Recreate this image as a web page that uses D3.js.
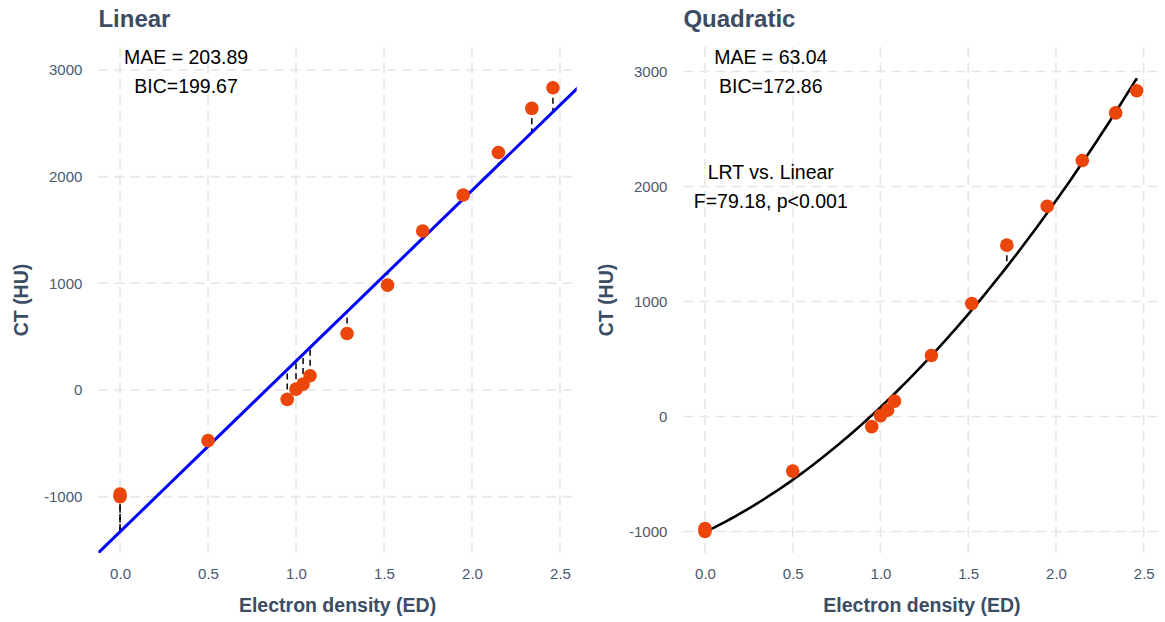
<!DOCTYPE html>
<html>
<head>
<meta charset="utf-8">
<script src="https://cdn.jsdelivr.net/npm/d3@7"></script>
<style>
  html, body { margin: 0; padding: 0; background: #ffffff; }
  svg { display: block; }
  text { font-family: "Liberation Sans", Arial, sans-serif; }
</style>
</head>
<body>
<svg id="chart" width="1165" height="622"></svg>
<script>
// ---------------- data ----------------
const electronDensity = [0, 0, 0.5, 0.95, 1.0, 1.04, 1.08, 1.29, 1.52, 1.72, 1.95, 2.15, 2.34, 2.46];
const ctHU            = [-1000, -975, -475, -88, 8, 55, 134, 530, 983, 1490, 1828, 2226, 2640, 2833];
const xTicks = [0, 0.5, 1.0, 1.5, 2.0, 2.5];
const yTicks = [-1000, 0, 1000, 2000, 3000];
const panelTitles = ["Linear", "Quadratic"];
const statLabels = [["MAE = 203.89", "BIC=199.67"], ["MAE = 63.04", "BIC=172.86"]];
const lrtLabel = ["LRT vs. Linear", "F=79.18, p<0.001"];
const xTitle = "Electron density (ED)";
const yTitle = "CT (HU)";

// ---------------- fits (least squares from the data) ----------------
function solve3(A, b) {
  const M = A.map((r, i) => r.concat([b[i]]));
  const n = 3;
  for (let i = 0; i < n; i++) {
    let p = i;
    for (let k = i + 1; k < n; k++) if (Math.abs(M[k][i]) > Math.abs(M[p][i])) p = k;
    [M[i], M[p]] = [M[p], M[i]];
    for (let k = i + 1; k < n; k++) {
      const f = M[k][i] / M[i][i];
      for (let j = i; j <= n; j++) M[k][j] -= f * M[i][j];
    }
  }
  const x = [0, 0, 0];
  for (let i = n - 1; i >= 0; i--) {
    let s = M[i][n];
    for (let j = i + 1; j < n; j++) s -= M[i][j] * x[j];
    x[i] = s / M[i][i];
  }
  return x;
}
const N = electronDensity.length;
const mx = d3.mean(electronDensity), my = d3.mean(ctHU);
let sxx = 0, sxy = 0;
for (let i = 0; i < N; i++) {
  sxx += (electronDensity[i] - mx) ** 2;
  sxy += (electronDensity[i] - mx) * (ctHU[i] - my);
}
const linB = sxy / sxx, linA = my - linB * mx;
const linFit = x => linA + linB * x;

const S = [0, 0, 0, 0, 0], T = [0, 0, 0];
for (let i = 0; i < N; i++) {
  const x = electronDensity[i], y = ctHU[i];
  for (let k = 0; k < 5; k++) S[k] += x ** k;
  for (let k = 0; k < 3; k++) T[k] += y * x ** k;
}
const qc = solve3([[S[0], S[1], S[2]], [S[1], S[2], S[3]], [S[2], S[3], S[4]]], T);
const quadFit = x => qc[0] + qc[1] * x + qc[2] * x * x;

// ---------------- layout ----------------
const svg = d3.select("#chart");
const panels = [
  { left: 98.4, right: 576.7, yDomain: [-1528, 3215], fit: linFit, type: "line", color: "#0000ff", lw: 3 },
  { left: 683.4, right: 1160.4, yDomain: [-1187, 3213], fit: quadFit, type: "curve", color: "#000000", lw: 2.6 }
];
const panelTop = 47, panelBottom = 553;
const xDomain = [-0.123, 2.595];
const titleColor = "#3b4c63";
const tickColor = "#4a596d";
const gridColor = "#e6e6e6";
const pointColor = "#ec450a";
const yFmt = d => String(d);          // plain hyphen-minus like the reference

panels.forEach((p, pi) => {
  const x = d3.scaleLinear().domain(xDomain).range([p.left, p.right]);
  const y = d3.scaleLinear().domain(p.yDomain).range([panelBottom, panelTop]);
  const g = svg.append("g");

  const clipId = "clip" + pi;
  svg.append("defs").append("clipPath").attr("id", clipId)
    .append("rect").attr("x", p.left).attr("y", panelTop)
    .attr("width", p.right - p.left).attr("height", panelBottom - panelTop);

  // grid
  g.append("g").selectAll("line").data(yTicks).join("line")
    .attr("x1", p.left).attr("x2", p.right)
    .attr("y1", d => y(d)).attr("y2", d => y(d))
    .attr("stroke", gridColor).attr("stroke-width", 1.6).attr("stroke-dasharray", "10,6");
  g.append("g").selectAll("line").data(xTicks).join("line")
    .attr("x1", d => x(d)).attr("x2", d => x(d))
    .attr("y1", panelTop).attr("y2", panelBottom)
    .attr("stroke", gridColor).attr("stroke-width", 1.6).attr("stroke-dasharray", "10,6");

  // axes (labels only)
  const yAxis = g.append("g").attr("transform", `translate(${p.left},0)`)
    .call(d3.axisLeft(y).tickValues(yTicks).tickSize(0).tickPadding(16).tickFormat(yFmt));
  yAxis.select(".domain").remove();
  yAxis.selectAll("text").attr("fill", tickColor).style("font-size", "15px")
    .style("font-family", "'Liberation Sans', Arial, sans-serif");
  const xAxis = g.append("g").attr("transform", `translate(0,${panelBottom})`)
    .call(d3.axisBottom(x).tickValues(xTicks).tickSize(0).tickPadding(15).tickFormat(d3.format(".1f")));
  xAxis.select(".domain").remove();
  xAxis.selectAll("text").attr("fill", tickColor).style("font-size", "15px")
    .style("font-family", "'Liberation Sans', Arial, sans-serif");

  const plot = g.append("g").attr("clip-path", `url(#${clipId})`);

  // residual segments
  plot.append("g").selectAll("line").data(electronDensity).join("line")
    .attr("x1", d => x(d)).attr("x2", d => x(d))
    .attr("y1", (d, i) => y(ctHU[i])).attr("y2", d => y(p.fit(d)))
    .attr("stroke", "#000").attr("stroke-width", 1.5).attr("stroke-dasharray", "6,4");

  // fit
  let xs;
  if (p.type === "line") xs = [xDomain[0] - 0.1, xDomain[1] + 0.1];
  else {
    const lo = d3.min(electronDensity), hi = d3.max(electronDensity);
    xs = d3.range(0, 101).map(k => lo + (hi - lo) * k / 100);
  }
  plot.append("path").datum(xs)
    .attr("d", d3.line().x(d => x(d)).y(d => y(p.fit(d))))
    .attr("fill", "none").attr("stroke", p.color).attr("stroke-width", p.lw)
    .attr("stroke-linejoin", "round");

  // points
  plot.append("g").selectAll("circle").data(electronDensity).join("circle")
    .attr("cx", d => x(d)).attr("cy", (d, i) => y(ctHU[i])).attr("r", 6.8)
    .attr("fill", pointColor);

  // annotations
  const ax = x(0.375);
  const ay = y(3124) + 7;
  statLabels[pi].forEach((t, k) => {
    g.append("text").attr("x", ax).attr("y", ay + k * 29).attr("text-anchor", "middle")
      .attr("fill", "#000").style("font-size", "19.5px").text(t);
  });
  if (pi === 1) {
    const ly = y(2126) + 7;
    lrtLabel.forEach((t, k) => {
      g.append("text").attr("x", ax).attr("y", ly + k * 28.5).attr("text-anchor", "middle")
        .attr("fill", "#000").style("font-size", "19.5px").text(t);
    });
  }

  // titles
  g.append("text").attr("x", p.left).attr("y", 26.7).attr("fill", titleColor)
    .style("font-size", "24px").style("font-weight", "bold").text(panelTitles[pi]);
  g.append("text").attr("x", (p.left + p.right) / 2).attr("y", 612).attr("text-anchor", "middle")
    .attr("fill", titleColor).style("font-size", "19.5px").style("font-weight", "bold").text(xTitle);
  g.append("text")
    .attr("transform", `translate(${p.left - 70},${(panelTop + panelBottom) / 2}) rotate(-90)`)
    .attr("text-anchor", "middle").attr("fill", titleColor)
    .style("font-size", "19.5px").style("font-weight", "bold").text(yTitle);
});
</script>
</body>
</html>
